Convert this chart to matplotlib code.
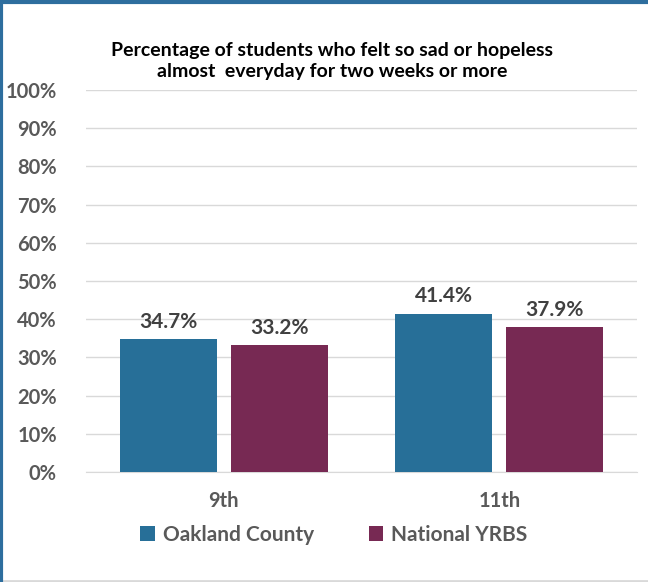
import numpy as np
import matplotlib.pyplot as plt
from matplotlib.ticker import PercentFormatter

plt.rcParams['font.family'] = ['Lato', 'DejaVu Sans']

grades = ['9th', '11th']
series_names = ['Oakland County', 'National YRBS']
oakland = [34.7, 41.4]
national = [33.2, 37.9]

colors = ['#276F98', '#772953']
tick_color = '#595959'

fig = plt.figure(figsize=(6.48, 5.82), dpi=100)
ax = fig.add_axes([86/648, 1 - 472/582, (637 - 86)/648, (472 - 90)/582])

x = np.arange(len(grades))
width = 0.352
gap = 0.051
offsets = [-(width + gap)/2, (width + gap)/2]

for vals, off, c, name in zip([oakland, national], offsets, colors, series_names):
    bars = ax.bar(x + off, vals, width, color=c, label=name, zorder=3)
    for b, v in zip(bars, vals):
        ax.text(b.get_x() + b.get_width()/2, v + 2.0, f'{v:.1f}%',
                ha='center', va='bottom', fontsize=15, fontweight='bold',
                color='#404040')

ax.set_xlim(-0.5, 1.5)
ax.set_ylim(0, 100)
ax.set_yticks(np.arange(0, 101, 10))
ax.yaxis.set_major_formatter(PercentFormatter(decimals=0))
ax.set_xticks(x)
ax.set_xticklabels(grades)
ax.grid(axis='y', color='#D9D9D9', linewidth=1, zorder=0)
for s in ['top', 'right', 'left']:
    ax.spines[s].set_visible(False)
ax.spines['bottom'].set_color('#D9D9D9')
ax.tick_params(axis='both', length=0, labelsize=14.5, labelcolor=tick_color)
ax.tick_params(axis='y', pad=21)
ax.tick_params(axis='x', pad=14)
for lbl in ax.get_xticklabels() + ax.get_yticklabels():
    lbl.set_fontweight('bold')

fig.text(0.5 + 8/648, 1 - 61/582,
         'Percentage of students who felt so sad or hopeless\nalmost  everyday for two weeks or more',
         ha='center', va='center', fontsize=14, fontweight='bold',
         color='black', linespacing=1.25)

leg = fig.legend(loc='center', bbox_to_anchor=(334/648, 1 - 535/582), ncol=2,
                 frameon=False, fontsize=15, handlelength=0.7, handleheight=0.7,
                 handletextpad=0.4, columnspacing=2.6)
for t in leg.get_texts():
    t.set_color(tick_color)
    t.set_fontweight('bold')

# chart frame: blue on left and top, light gray at the bottom
fig.add_artist(plt.Line2D([0, 1], [0.002, 0.002], transform=fig.transFigure,
                          color='#D9D9D9', linewidth=2))
fig.add_artist(plt.Line2D([0.002, 0.002], [0, 1], transform=fig.transFigure,
                          color='#2E6E9E', linewidth=3))
fig.add_artist(plt.Line2D([0, 1], [0.997, 0.997], transform=fig.transFigure,
                          color='#2E6E9E', linewidth=3))

fig.savefig('out.png', dpi=100)
